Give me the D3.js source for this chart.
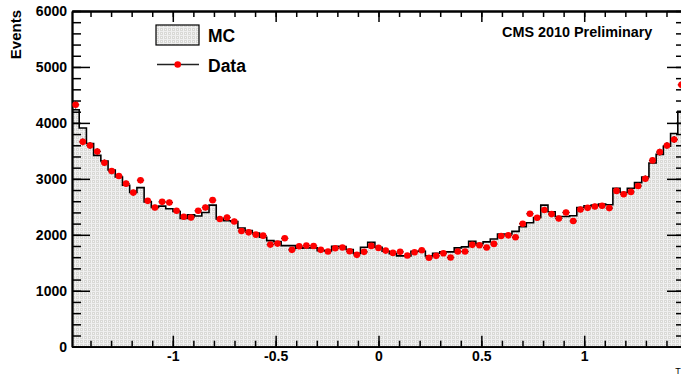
<!DOCTYPE html>
<html>
<head>
  <meta charset="utf-8">
  <style>
    body { margin: 0; background: #fff; }
    svg { display: block; font-family: "Liberation Sans", Arial, Helvetica, sans-serif; font-weight: bold; }
  </style>
  <script src="https://d3js.org/d3.v7.min.js"></script>
</head>
<body>
  <div id="chart"></div>
  <script>
    // eta range and binning
    const etaMin = -1.49, etaMax = 1.49, nBins = 85;

    // MC histogram (events per bin)
    const mcCounts = [
      4236, 3909, 3632, 3419, 3318, 3158, 3033, 2886, 2755, 2843, 2589, 2488, 2512, 2465, 2417, 2292, 2358, 2335, 2399, 2530, 2282, 2251,
      2239, 2121, 2074, 2033, 1955, 1896, 1878, 1807, 1807, 1759, 1766, 1766, 1718, 1718, 1795, 1790, 1736, 1670, 1777, 1866, 1777, 1705,
      1660, 1624, 1624, 1706, 1706, 1624, 1670, 1695, 1695, 1766, 1784, 1884, 1843, 1873, 1926, 2015, 2015, 2061, 2145,
      2215, 2310, 2530, 2411, 2328, 2328, 2340, 2488, 2518, 2530, 2548, 2536, 2832, 2755, 2832, 2932, 3033, 3282, 3437, 3584, 3810, 4206
    ];

    // data points (events per bin)
    const dataCounts = [
      4325, 3661, 3597, 3490, 3288, 3140, 3051, 2914, 2754, 2975, 2607, 2488, 2589, 2577, 2429, 2322, 2310, 2429, 2488, 2619, 2282, 2310,
      2239, 2068, 2044, 2003, 1985, 1825, 1843, 1937, 1731, 1795, 1807, 1801, 1731, 1701, 1759, 1772, 1706, 1642, 1695, 1802, 1766, 1718,
      1677, 1695, 1630, 1688, 1724, 1589, 1624, 1670, 1594, 1701, 1701, 1820, 1813, 1772, 1837, 1979, 1990, 1955, 2198,
      2376, 2305, 2442, 2370, 2292, 2399, 2246, 2452, 2482, 2506, 2518, 2477, 2785, 2726, 2767, 2873, 3003, 3330, 3478, 3597, 3703, 4681
    ];

    const xMajorTicks = [-1, -0.5, 0, 0.5, 1];
    const xTickLabels = ["-1", "-0.5", "0", "0.5", "1"];
    const yMajorTicks = [0, 1000, 2000, 3000, 4000, 5000, 6000];

    const W = 681, H = 378;
    const svg = d3.select("#chart").append("svg").attr("width", W).attr("height", H);

    const x = d3.scaleLinear().domain([etaMin, etaMax]).range([72, 685]);
    const y = d3.scaleLinear().domain([0, 6000]).range([346.7, 11]);

    const binW = (etaMax - etaMin) / nBins;
    const bins = mcCounts.map((v, i) => ({ lo: etaMin + i * binW, hi: etaMin + (i + 1) * binW, mc: v, data: dataCounts[i] }));

    // dotted grey fill like ROOT fill style
    const defs = svg.append("defs");
    const pat = defs.append("pattern")
      .attr("id", "dots")
      .attr("patternUnits", "userSpaceOnUse")
      .attr("width", 4).attr("height", 4);
    pat.append("rect").attr("width", 4).attr("height", 4).attr("fill", "#d9d9d6");
    pat.append("rect").attr("x", 3).attr("width", 1).attr("height", 4).attr("fill", "#f2f2f2");
    pat.append("rect").attr("y", 3).attr("width", 4).attr("height", 1).attr("fill", "#eeeeee");
    pat.append("rect").attr("x", 1).attr("y", 1).attr("width", 1).attr("height", 1).attr("fill", "#f6f6f6");

    defs.append("clipPath").attr("id", "frameClip")
      .append("rect").attr("x", 72).attr("y", 11).attr("width", 685 - 72).attr("height", 346.7 - 11);

    // step points for the MC histogram
    const steps = bins.map(b => ({ e: b.lo, v: b.mc }));
    steps.push({ e: bins[nBins - 1].hi, v: bins[nBins - 1].mc });

    const area = d3.area()
      .curve(d3.curveStepAfter)
      .x(d => x(d.e))
      .y0(y(0))
      .y1(d => y(d.v));

    const line = d3.line()
      .curve(d3.curveStepAfter)
      .x(d => x(d.e))
      .y(d => y(d.v));

    const plot = svg.append("g").attr("clip-path", "url(#frameClip)");

    plot.append("path").datum(steps)
      .attr("d", area)
      .attr("fill", "url(#dots)");

    plot.append("path").datum(steps)
      .attr("d", line)
      .attr("fill", "none")
      .attr("stroke", "#000")
      .attr("stroke-width", 1.6);

    // axes: major + minor ticks on all four sides
    function styleAxis(g) {
      g.selectAll("line").attr("stroke", "#000").attr("stroke-width", 1.5);
      g.select(".domain").attr("stroke", "#000").attr("stroke-width", 1.8);
      g.selectAll("text").attr("fill", "#000").style("font-size", "14px").style("font-weight", "bold")
        .style("font-family", "'Liberation Sans', Arial, sans-serif");
    }

    const yMinor = d3.range(0, 6001, 200);
    const xMinor = d3.range(-14, 15).map(d => d / 10);

    svg.append("g").attr("transform", "translate(72,0)")
      .call(d3.axisLeft(y).tickValues(yMinor).tickSize(-9).tickSizeOuter(0).tickFormat(""))
      .call(styleAxis);
    svg.append("g").attr("transform", "translate(72,0)")
      .call(d3.axisLeft(y).tickValues(yMajorTicks).tickSize(-18).tickSizeOuter(0).tickPadding(5).tickFormat(d3.format("d")))
      .call(styleAxis);

    svg.append("g").attr("transform", "translate(685,0)")
      .call(d3.axisRight(y).tickValues(yMinor).tickSize(-9).tickSizeOuter(0).tickFormat(""))
      .call(styleAxis);
    svg.append("g").attr("transform", "translate(685,0)")
      .call(d3.axisRight(y).tickValues(yMajorTicks).tickSize(-18).tickSizeOuter(0).tickFormat(""))
      .call(styleAxis);

    svg.append("g").attr("transform", `translate(0,${y(0)})`)
      .call(d3.axisBottom(x).tickValues(xMinor).tickSize(-6).tickSizeOuter(0).tickFormat(""))
      .call(styleAxis);
    svg.append("g").attr("transform", `translate(0,${y(0)})`)
      .call(d3.axisBottom(x).tickValues(xMajorTicks).tickSize(-11).tickSizeOuter(0).tickPadding(4)
        .tickFormat((d, i) => xTickLabels[i]))
      .call(styleAxis);

    svg.append("g").attr("transform", `translate(0,${y(6000)})`)
      .call(d3.axisTop(x).tickValues(xMinor).tickSize(-6).tickSizeOuter(0).tickFormat(""))
      .call(styleAxis);
    svg.append("g").attr("transform", `translate(0,${y(6000)})`)
      .call(d3.axisTop(x).tickValues(xMajorTicks).tickSize(-11).tickSizeOuter(0).tickFormat(""))
      .call(styleAxis);

    // data points with horizontal error bars
    const pts = svg.append("g");
    pts.selectAll(".xerr").data(bins).enter().append("line")
      .attr("x1", d => x(d.lo)).attr("x2", d => x(d.hi))
      .attr("y1", d => y(d.data)).attr("y2", d => y(d.data))
      .attr("stroke", "#000").attr("stroke-width", 1.2);
    pts.selectAll(".yerr").data(bins).enter().append("line")
      .attr("x1", d => x((d.lo + d.hi) / 2)).attr("x2", d => x((d.lo + d.hi) / 2))
      .attr("y1", d => y(d.data + Math.sqrt(d.data))).attr("y2", d => y(d.data - Math.sqrt(d.data)))
      .attr("stroke", "#000").attr("stroke-width", 1.2);
    pts.selectAll("circle").data(bins).enter().append("circle")
      .attr("cx", d => x((d.lo + d.hi) / 2))
      .attr("cy", d => y(d.data))
      .attr("r", 3.3)
      .attr("fill", "#ff0000");

    // legend
    const leg = svg.append("g");
    leg.append("rect").attr("x", 156).attr("y", 25).attr("width", 43).attr("height", 20)
      .attr("fill", "url(#dots)").attr("stroke", "#000").attr("stroke-width", 1.2);
    leg.append("text").attr("x", 208).attr("y", 42).style("font-size", "17.5px").text("MC");
    leg.append("line").attr("x1", 157).attr("x2", 199).attr("y1", 64.5).attr("y2", 64.5)
      .attr("stroke", "#222").attr("stroke-width", 1.5);
    leg.append("circle").attr("cx", 177.7).attr("cy", 64.5).attr("r", 3.3).attr("fill", "#ff0000");
    leg.append("text").attr("x", 208).attr("y", 72).style("font-size", "17.5px").text("Data");

    svg.append("text").attr("x", 502).attr("y", 37).style("font-size", "14.4px").text("CMS 2010 Preliminary");

    svg.append("text")
      .attr("transform", "translate(21,10) rotate(-90)")
      .attr("text-anchor", "end")
      .style("font-size", "15px")
      .text("Events");

    svg.append("text").attr("x", 678).attr("y", 374).attr("text-anchor", "middle")
      .style("font-size", "9px").style("font-weight", "normal").text("T");
  </script>
</body>
</html>
